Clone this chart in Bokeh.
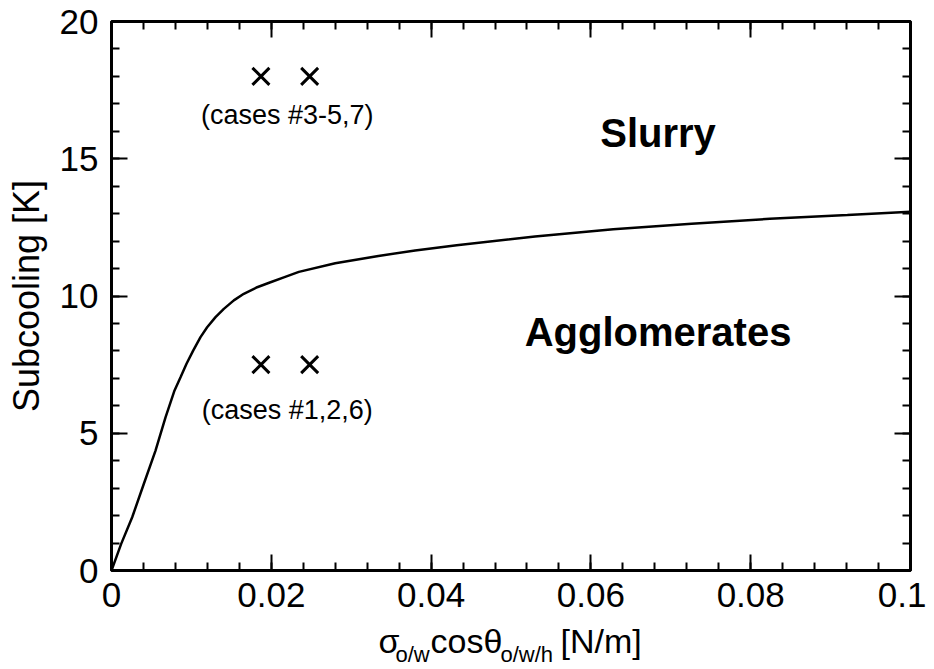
import math
from bokeh.plotting import figure
from bokeh.layouts import column
from bokeh.models import (Range1d, LinearAxis, FixedTicker, CustomJSTickFormatter, Label)
from bokeh.embed import file_html
from bokeh.resources import INLINE

# ---------------- data ----------------
curve_x = [0, 0.00121, 0.00259, 0.00405, 0.00551, 0.00676, 0.00789, 0.00864, 0.00939,
           0.01022, 0.01114, 0.01197, 0.01302, 0.01406, 0.01531, 0.01656, 0.01823,
           0.0199, 0.02157, 0.02345, 0.028, 0.0334, 0.038, 0.0432, 0.053, 0.0628,
           0.0726, 0.0824, 0.0921, 0.1]
curve_y = [0, 0.97, 1.94, 3.16, 4.37, 5.58, 6.56, 7.04, 7.53,
           8.01, 8.50, 8.86, 9.23, 9.53, 9.84, 10.08, 10.32,
           10.50, 10.68, 10.88, 11.19, 11.46, 11.66, 11.85, 12.17, 12.43,
           12.63, 12.81, 12.95, 13.07]

slurry_cases_x = [0.0187, 0.0248]
slurry_cases_y = [18, 18]
agglo_cases_x = [0.0187, 0.0248]
agglo_cases_y = [7.5, 7.5]

x_major = [0, 0.02, 0.04, 0.06, 0.08, 0.1]
x_minor = [round(i * 0.004, 3) for i in range(26)]
y_major = [0, 5, 10, 15, 20]
y_minor = list(range(21))

FONT = "Liberation Sans"
BASE_SHIFT = 0.44  # em: Label anchor correction so that y is the text baseline

# ---------------- figure ----------------
p = figure(frame_width=799, frame_height=549,
           min_border_left=111, min_border_right=16, min_border_top=21, min_border_bottom=52,
           x_range=Range1d(0, 0.1), y_range=Range1d(0, 20),
           output_backend="svg", toolbar_location=None,
           x_axis_location=None, y_axis_location=None)
p.xgrid.visible = False
p.ygrid.visible = False
p.outline_line_color = "black"
p.outline_line_width = 3
p.background_fill_color = "white"
p.border_fill_color = "white"

fmt = CustomJSTickFormatter(code="return (Math.round(tick*1000)/1000).toString();")
blank = CustomJSTickFormatter(code="return '';")

def make_axis(ticks, minor, show_labels, standoff=12):
    ax = LinearAxis(ticker=FixedTicker(ticks=ticks, minor_ticks=minor))
    ax.axis_line_color = None
    ax.major_tick_in = 16
    ax.major_tick_out = 0
    ax.minor_tick_in = 8
    ax.minor_tick_out = 0
    ax.major_tick_line_width = 2
    ax.minor_tick_line_width = 2
    ax.major_tick_line_color = "black"
    ax.minor_tick_line_color = "black"
    if show_labels:
        ax.formatter = fmt
        ax.major_label_text_font = FONT
        ax.major_label_text_font_size = "35px"
        ax.major_label_text_color = "black"
        ax.major_label_standoff = standoff
    else:
        ax.formatter = blank
        ax.major_label_text_font_size = "6px"
        ax.major_label_standoff = 0
    return ax

xb = make_axis(x_major, x_minor, True, standoff=12)
p.add_layout(xb, "below")
p.add_layout(make_axis(x_major, x_minor, False), "above")
yl = make_axis(y_major, y_minor, True, standoff=13)
yl.axis_label = "Subcooling [K]"
yl.axis_label_text_font = FONT
yl.axis_label_text_font_size = "36px"
yl.axis_label_text_font_style = "normal"
yl.axis_label_text_color = "black"
yl.axis_label_standoff = 10
p.add_layout(yl, "left")
p.add_layout(make_axis(y_major, y_minor, False), "right")

# curve
p.line(curve_x, curve_y, line_color="black", line_width=2.5)

# markers
p.scatter(slurry_cases_x, slurry_cases_y, marker="x", size=24, line_color="black", line_width=3)
p.scatter(agglo_cases_x, agglo_cases_y, marker="x", size=24, line_color="black", line_width=3)

# annotations (y given as text baseline in data units, corrected for Label anchoring)
def add_label(fig, px_per_unit, x, y, text, size_px, bold=False, align="center", x_offset=0):
    y_corr = y + BASE_SHIFT * size_px / px_per_unit
    lab = Label(x=x, y=y_corr, text=text, text_font=FONT, text_font_size=f"{size_px}px",
                text_font_style="bold" if bold else "normal",
                text_align=align, text_baseline="alphabetic", text_color="black",
                x_offset=x_offset)
    fig.add_layout(lab)

PXY = 549 / 20.0
add_label(p, PXY, 0.022, 16.15, "(cases #3-5,7)", 27)
add_label(p, PXY, 0.022, 5.4, "(cases #1,2,6)", 27)
add_label(p, PXY, 0.0684, 15.3, "Slurry", 40, bold=True)
add_label(p, PXY, 0.0684, 8.05, "Agglomerates", 40, bold=True)

# ---------------- x axis title strip (same x scale) ----------------
q = figure(frame_width=799, frame_height=46,
           min_border_left=111, min_border_right=16, min_border_top=0, min_border_bottom=0,
           x_range=p.x_range, y_range=Range1d(0, 46),
           output_backend="svg", toolbar_location=None,
           x_axis_location=None, y_axis_location=None)
q.xgrid.visible = False
q.ygrid.visible = False
q.outline_line_color = None
q.background_fill_color = "white"
q.border_fill_color = "white"

main_base = 12.5
sub_base = 4.5
pieces = [("σ", 34, main_base, -132.5), ("o/w", 22, sub_base, -115.5),
          ("cos", 34, main_base, -80.5), ("θ", 34, main_base, -27.5),
          ("o/w/h", 22, sub_base, -10.5), ("[N/m]", 34, main_base, 49.5)]
for txt, sz, yy, off in pieces:
    add_label(q, 1.0, 0.05, yy, txt, sz, align="left", x_offset=off)

layout = column(p, q, spacing=0)
open("out.html", "w").write(file_html(layout, INLINE))
